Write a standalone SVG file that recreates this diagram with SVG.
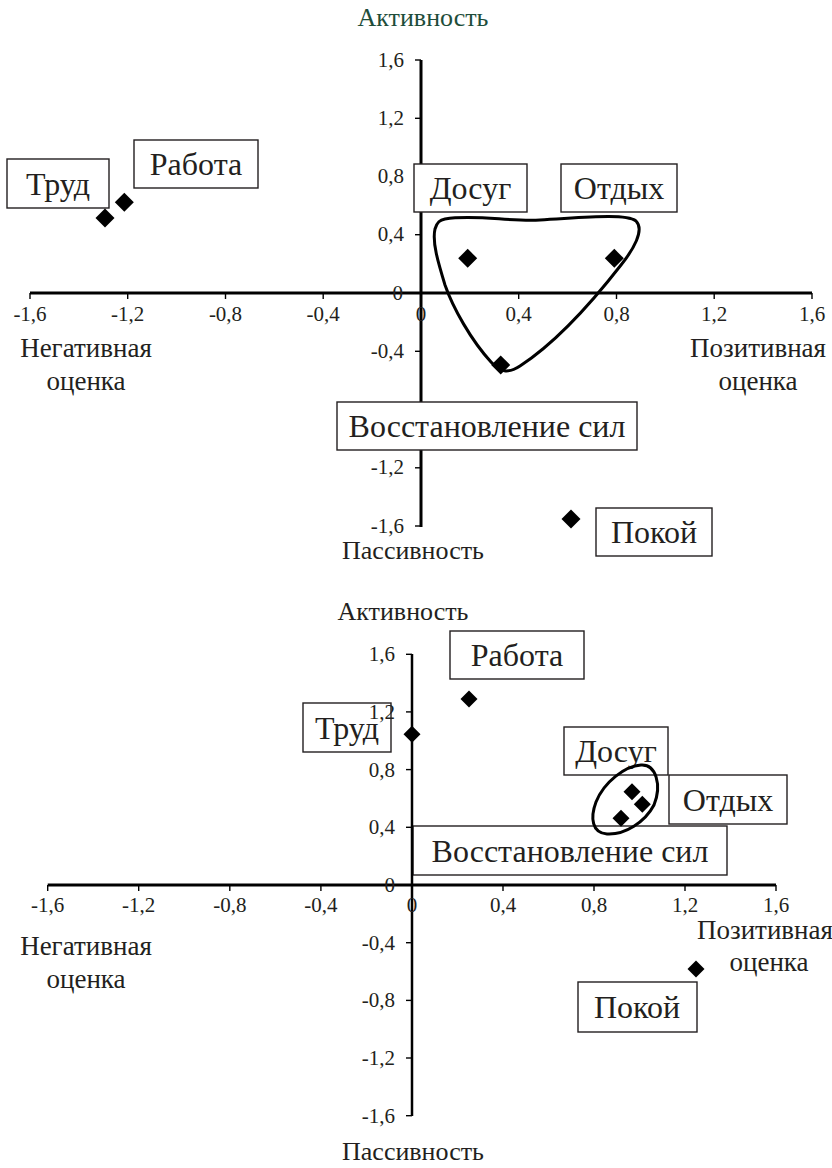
<svg xmlns="http://www.w3.org/2000/svg" width="832" height="1168" viewBox="0 0 832 1168" font-family="'Liberation Serif','Times New Roman',serif">
<style>
text{font-family:'Liberation Serif','Times New Roman',serif;fill:#231F20}
.tk{font-size:21px}
.ttl{font-size:26px;text-anchor:middle}
.ttl2{font-size:27px;text-anchor:middle}
.lb{font-size:32px;text-anchor:middle}
.box{fill:#fff;stroke:#231F20;stroke-width:1.4}
.ax{stroke:#000;stroke-width:3;fill:none}
.tick{stroke:#000;stroke-width:1.4}
.curve{fill:none;stroke:#000;stroke-width:3}
.mid{text-anchor:middle}
.end{text-anchor:end}
</style>
<defs>
<path id="dm" d="M0,-9.5 L9.5,0 L0,9.5 L-9.5,0 Z" fill="#000"/>
<path id="dm2" d="M0,-8.5 L8.5,0 L0,8.5 L-8.5,0 Z" fill="#000"/>
</defs>

<!-- TOP CHART -->
<g id="top-axes">
<line class="ax" x1="30" y1="293" x2="812" y2="293"/>
<line class="ax" x1="421" y1="60" x2="421" y2="527"/>
<g class="tick">
<line x1="30" y1="293" x2="30" y2="299"/><line x1="127.7" y1="293" x2="127.7" y2="299"/>
<line x1="225.5" y1="293" x2="225.5" y2="299"/><line x1="323.2" y1="293" x2="323.2" y2="299"/>
<line x1="518.7" y1="293" x2="518.7" y2="299"/><line x1="616.5" y1="293" x2="616.5" y2="299"/>
<line x1="714.2" y1="293" x2="714.2" y2="299"/><line x1="812" y1="293" x2="812" y2="299"/>
<line x1="415" y1="60" x2="421" y2="60"/><line x1="415" y1="118.3" x2="421" y2="118.3"/>
<line x1="415" y1="176.5" x2="421" y2="176.5"/><line x1="415" y1="234.7" x2="421" y2="234.7"/>
<line x1="415" y1="351.3" x2="421" y2="351.3"/>
<line x1="415" y1="467.8" x2="421" y2="467.8"/><line x1="415" y1="526" x2="421" y2="526"/>
</g>
<g class="tk mid">
<text x="30" y="321">-1,6</text><text x="127.7" y="321">-1,2</text>
<text x="225.5" y="321">-0,8</text><text x="323.2" y="321">-0,4</text>
<text x="421" y="321">0</text><text x="518.7" y="321">0,4</text>
<text x="616.5" y="321">0,8</text><text x="714.2" y="321">1,2</text>
<text x="812" y="321">1,6</text>
</g>
<g class="tk end">
<text x="404" y="67">1,6</text><text x="404" y="125">1,2</text>
<text x="404" y="183">0,8</text><text x="404" y="241">0,4</text>
<text x="403" y="300">0</text>
<text x="404" y="358">-0,4</text>
<text x="404" y="474">-1,2</text><text x="404" y="533">-1,6</text>
</g>
<text class="ttl" x="423" y="26" style="fill:#1E4D3A">Активность</text>
<text class="ttl" x="413" y="559">Пассивность</text>
<text class="ttl2" x="86" y="357">Негативная</text>
<text class="ttl2" x="86" y="390">оценка</text>
<text class="ttl2" x="758" y="357">Позитивная</text>
<text class="ttl2" x="758" y="390">оценка</text>
</g>

<g id="top-connectors">
<path class="curve" d="M445,219 C475,214 510,222 540,220 C580,218 625,213 636,221 C645,230 633,250 621,265 C600,292 560,340 520,366 C508,374 500,372 491,362 C471,340 453,308 445,285 C438,262 432,242 435,229 C437,222 440,220 445,219 Z"/>
</g>

<g id="t-trud"><rect class="box" x="7" y="159" width="102" height="49"/><text class="lb" x="58" y="195">Труд</text><use href="#dm" x="105" y="218"/></g>
<g id="t-rabota"><rect class="box" x="134" y="140" width="124" height="48"/><text class="lb" x="196" y="175">Работа</text><use href="#dm" x="124.3" y="202.3"/></g>
<g id="t-dosug"><rect class="box" x="414" y="164" width="113" height="48"/><text class="lb" x="470.5" y="199">Досуг</text><use href="#dm" x="467.7" y="258.3"/></g>
<g id="t-otdyh"><rect class="box" x="561" y="164" width="116" height="48"/><text class="lb" x="619" y="199">Отдых</text><use href="#dm" x="614.3" y="258.3"/></g>
<g id="t-vosst"><rect class="box" x="337" y="402" width="300" height="48"/><text class="lb" x="487" y="437">Восстановление сил</text><use href="#dm" x="500.7" y="365"/></g>
<g id="t-pokoy"><rect class="box" x="596" y="508" width="116" height="48"/><text class="lb" x="654" y="543">Покой</text><use href="#dm" x="571" y="519"/></g>

<!-- BOTTOM CHART -->
<g id="b-trud"><rect class="box" x="303" y="703" width="88" height="49"/><text class="lb" x="347" y="739">Труд</text><use href="#dm2" x="412" y="734.3"/></g>
<g id="b-rabota"><rect class="box" x="450" y="631" width="134" height="48"/><text class="lb" x="517" y="666">Работа</text><use href="#dm2" x="469" y="699"/></g>
<g id="b-dosug"><rect class="box" x="564" y="727" width="104" height="48"/><text class="lb" x="616" y="762">Досуг</text><use href="#dm2" x="632" y="791.7"/></g>
<g id="b-otdyh"><rect class="box" x="669" y="775" width="118" height="49"/><text class="lb" x="728" y="811">Отдых</text><use href="#dm2" x="642.3" y="804.3"/></g>
<g id="b-vosst"><rect class="box" x="413" y="826" width="314" height="49"/><text class="lb" x="570" y="862">Восстановление сил</text><use href="#dm2" x="621" y="818.3"/></g>
<g id="b-pokoy"><rect class="box" x="578" y="982" width="119" height="50"/><text class="lb" x="637" y="1018">Покой</text><use href="#dm2" x="696" y="969"/></g>

<g id="bottom-axes">
<line class="ax" x1="47.7" y1="885" x2="776" y2="885"/>
<line class="ax" x1="412" y1="654" x2="412" y2="1116" style="stroke-width:2.5"/>
<g class="tick">
<line x1="47.7" y1="885" x2="47.7" y2="891"/><line x1="138.7" y1="885" x2="138.7" y2="891"/>
<line x1="229.8" y1="885" x2="229.8" y2="891"/><line x1="320.9" y1="885" x2="320.9" y2="891"/>
<line x1="503" y1="885" x2="503" y2="891"/><line x1="594" y1="885" x2="594" y2="891"/>
<line x1="685" y1="885" x2="685" y2="891"/><line x1="776" y1="885" x2="776" y2="891"/>
<line x1="406" y1="654.3" x2="412" y2="654.3"/><line x1="406" y1="711.9" x2="412" y2="711.9"/>
<line x1="406" y1="769.6" x2="412" y2="769.6"/><line x1="406" y1="827.3" x2="412" y2="827.3"/>
<line x1="406" y1="942.7" x2="412" y2="942.7"/><line x1="406" y1="1000.4" x2="412" y2="1000.4"/>
<line x1="406" y1="1058" x2="412" y2="1058"/><line x1="406" y1="1115.7" x2="412" y2="1115.7"/>
</g>
<g class="tk mid">
<text x="47.7" y="912">-1,6</text><text x="138.7" y="912">-1,2</text>
<text x="229.8" y="912">-0,8</text><text x="320.9" y="912">-0,4</text>
<text x="412" y="912">0</text><text x="503" y="912">0,4</text>
<text x="594" y="912">0,8</text><text x="685" y="912">1,2</text>
<text x="776" y="912">1,6</text>
</g>
<g class="tk end">
<text x="395" y="661">1,6</text><text x="395" y="719">1,2</text>
<text x="395" y="777">0,8</text><text x="395" y="834">0,4</text>
<text x="395" y="892">0</text>
<text x="395" y="950">-0,4</text><text x="395" y="1007">-0,8</text>
<text x="395" y="1065">-1,2</text><text x="395" y="1123">-1,6</text>
</g>
<text class="ttl" x="403" y="620">Активность</text>
<text class="ttl" x="413" y="1160">Пассивность</text>
<text class="ttl2" x="86" y="955">Негативная</text>
<text class="ttl2" x="86" y="988">оценка</text>
<text class="ttl2" x="697" y="939" style="text-anchor:start">Позитивная</text>
<text class="ttl2" x="769" y="971">оценка</text>
</g>

<g id="bottom-connectors">
<path class="curve" d="M641,765 C656,764 662,785 654,805 C645,822 625,835 607,834 C592,833 590,818 596,802 C604,782 625,766 641,765 Z"/>
</g>
</svg>
